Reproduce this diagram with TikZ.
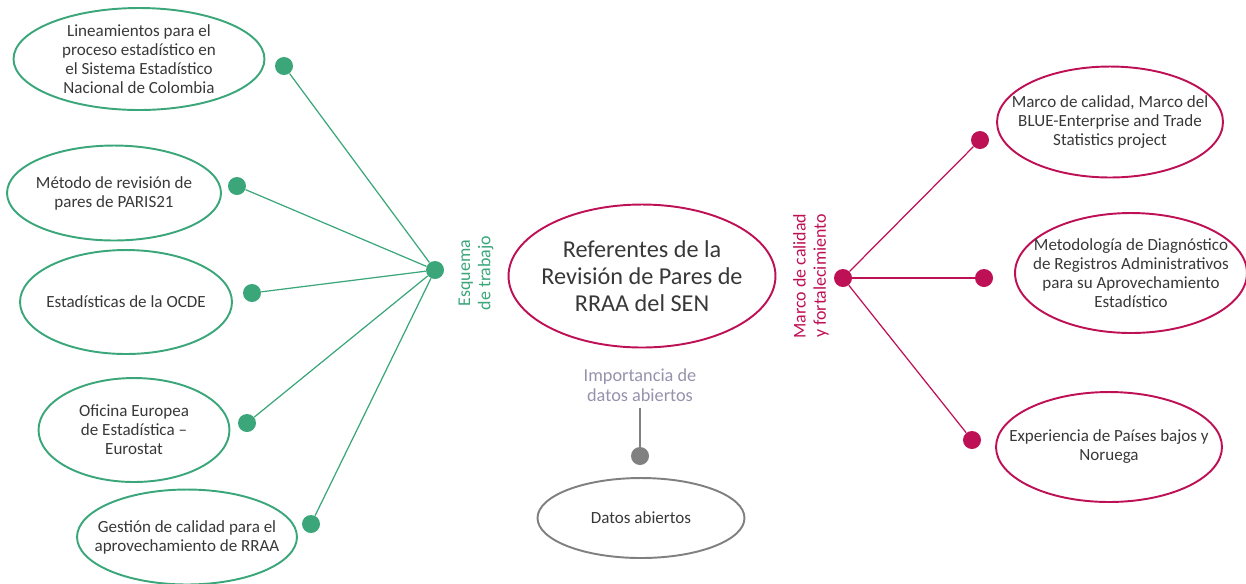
\documentclass[tikz,border=0pt]{standalone}
\usepackage{fontspec}
\setmainfont{Carlito}
\usetikzlibrary{shapes.geometric}

\definecolor{verde}{RGB}{58,166,122}
\definecolor{vino}{RGB}{190,16,85}
\definecolor{texto}{RGB}{56,56,56}
\definecolor{gris}{RGB}{128,128,128}
\definecolor{lila}{RGB}{150,146,172}

\begin{document}
\begin{tikzpicture}[
  x=0.02cm, y=-0.02cm,
  font=\fontsize{9.7}{10.8}\selectfont,
  elip/.style={draw, ellipse, line width=1.1pt, align=center, text=texto, inner xsep=-12pt, inner ysep=-2pt},
  elipV/.style={elip, draw=verde},
  elipR/.style={elip, draw=vino},
  elipG/.style={elip, draw=gris},
  punto/.style={circle, inner sep=0pt, minimum size=0.36cm},
  lineaV/.style={verde, line width=0.7pt},
  lineaR/.style={vino, line width=0.7pt},
  rama/.style={rotate=90, align=center, font=\fontsize{10.2}{11.5}\selectfont}
]
\useasboundingbox (0,0) rectangle (1246,583);

% Nodo central
\node[elipR, minimum width=5.34cm, minimum height=2.86cm,
  font=\fontsize{13.8}{15.4}\selectfont] (centro) at (642,276)
  {Referentes de la\\Revisión de Pares de\\RRAA del SEN};

% Rama izquierda: esquema de trabajo
\node[rama, text=verde] (esquema) at (476,273) {Esquema\\de trabajo};
\node[punto, fill=verde] (hubV) at (435,270) {};

\node[elipV, minimum width=5.02cm, minimum height=2.04cm] (lineam) at (139,59)
  {Lineamientos para el\\proceso estadístico en\\el Sistema Estadístico\\Nacional de Colombia};
\node[elipV, minimum width=4.28cm, minimum height=1.9cm] (paris) at (114,193)
  {Método de revisión de\\pares de PARIS21};
\node[elipV, minimum width=4.24cm, minimum height=2.08cm] (ocde) at (126,302)
  {Estadísticas de la OCDE};
\node[elipV, minimum width=3.82cm, minimum height=2.08cm] (eurostat) at (134,430)
  {Oficina Europea\\de Estadística –\\Eurostat};
\node[elipV, minimum width=4.4cm, minimum height=1.9cm] (gestion) at (187,537)
  {Gestión de calidad para el\\aprovechamiento de RRAA};

\node[punto, fill=verde] (dV1) at (284,66) {};
\node[punto, fill=verde] (dV2) at (237,186) {};
\node[punto, fill=verde] (dV3) at (252,293) {};
\node[punto, fill=verde] (dV4) at (247,423) {};
\node[punto, fill=verde] (dV5) at (311,524) {};

\foreach \i in {1,...,5}
  \draw[lineaV] (hubV) -- (dV\i);

% Rama derecha: marco de calidad
\node[rama, text=vino] (marco) at (811,276) {Marco de calidad\\y fortalecimiento};
\node[punto, fill=vino] (hubR) at (843,278) {};

\node[elipR, minimum width=4.52cm, minimum height=2.22cm] (blue) at (1110,122)
  {Marco de calidad, Marco del\\BLUE-Enterprise and Trade\\Statistics project};
\node[elipR, minimum width=4.64cm, minimum height=2.4cm] (metodo) at (1131,273)
  {Metodología de Diagnóstico\\de Registros Administrativos\\para su Aprovechamiento\\Estadístico};
\node[elipR, minimum width=4.52cm, minimum height=2.2cm] (paises) at (1109,447)
  {Experiencia de Países bajos y\\Noruega};

\node[punto, fill=vino] (dR1) at (980,140) {};
\node[punto, fill=vino] (dR2) at (984,278) {};
\node[punto, fill=vino] (dR3) at (972,440) {};

\foreach \i in {1,2,3}
  \draw[lineaR] (hubR) -- (dR\i);

% Rama inferior: datos abiertos
\node[align=center, text=lila, font=\fontsize{10.4}{11.5}\selectfont] (importancia) at (640,385)
  {Importancia de\\datos abiertos};
\node[punto, fill=gris] (dG) at (640,456) {};
\node[elipG, minimum width=4.14cm, minimum height=1.6cm] (datos) at (641,518) {Datos abiertos};
\draw[gris, line width=1pt] (importancia) -- (dG);

\end{tikzpicture}
\end{document}
